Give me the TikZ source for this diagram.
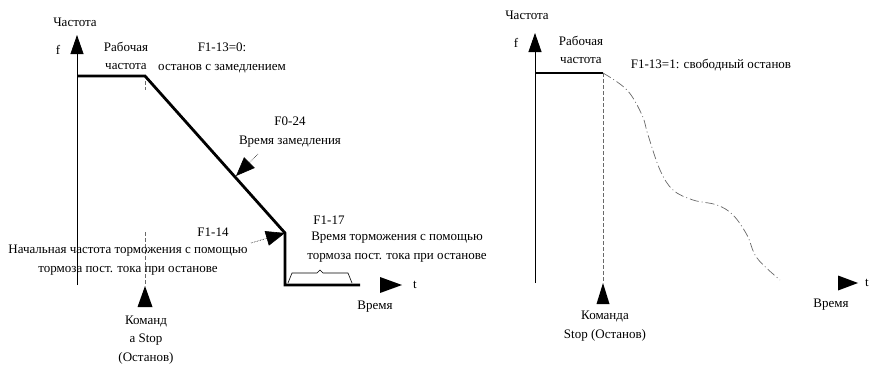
\documentclass[tikz,border=0pt]{standalone}
\usepackage{fontspec}
\setmainfont{Liberation Serif}
\usetikzlibrary{positioning, arrows.meta}
\definecolor{GuideGray}{RGB}{105, 105, 105}

\begin{document}
\begin{tikzpicture}[x=1pt, y=-1pt,
      lbl/.style={font=\fontsize{13}{18.5}\selectfont, inner sep=0pt, align=center},
      axis/.style={line width=0.8pt, -{Triangle[length=19pt, width=13pt]}},
      curve/.style={line width=2.8pt, line join=miter},
      guide/.style={draw=GuideGray, line width=0.8pt, dash pattern=on 4pt off 2pt},
      coast/.style={draw=GuideGray, line width=0.7pt, dash pattern=on 9pt off 3pt on 1pt off 3pt},
      pointer/.style={densely dotted, line width=0.6pt, -{Triangle[length=19pt, width=15pt]}},
      marker/.style={fill=black}
    ]
      \useasboundingbox (0,0) rectangle (869,364);

      % left chart: stop with deceleration
      \coordinate (oL) at (77,285);
      \coordinate (yL) at (77,35);
      \coordinate (runL) at (77,76);
      \coordinate (decL) at (145,76);
      \coordinate (dcL) at (285,233);
      \coordinate (endL) at (285,285);
      \coordinate (tailL) at (360,285);
      \coordinate (stopL) at (145,286);
      \coordinate (tL) at (402,285);
      \coordinate (slopeL) at (236,176);

      \draw[axis] (oL) -- (yL);
      \draw[curve] (runL) -- (decL) -- (dcL) -- (endL) -- (tailL);
      \draw[guide] (145,81) -- (145,90);
      \draw[guide] (145,232) -- (stopL);
      \fill[marker] (stopL) -- ++(-7.5,21) -- ++(15,0) -- cycle;
      \fill[marker] (tL) -- ++(-22,-8) -- ++(0,16) -- cycle;
      \draw[line width=0.6pt] (288,283) -- (292,273) -- (317,273) -- (320,270) -- (323,273) -- (348,273) -- (352,283);

      \node[lbl] (freqL) at (75,22) {Частота};
      \node[lbl] (fL) at (58,50) {f};
      \node[lbl] (workL) at (126,56) {Рабочая\\частота};
      \node[lbl] (modeL) at (222,58) {F1-13=0:\\останов с замедлением};
      \node[lbl] (decTime) at (290,132) {F0-24\\Время замедления};
      \node[lbl] (dcFreq) at (213,232) {F1-14};
      \node[lbl] (dcFreqTxt) at (128,260) {Начальная частота торможения с помощью\\тормоза пост. тока при останове};
      \node[lbl] (dcTime) at (329,220) {F1-17};
      \node[lbl] (dcTimeTxt) at (397,247) {Время торможения с помощью\\тормоза пост. тока при останове};
      \node[lbl] (cmdL) at (146,340) {Команд\\а Stop\\(Останов)};
      \node[lbl] (timeL) at (375,307) {Время};
      \node[lbl] (tLbl) at (415,285) {t};

      \coordinate (ptrA) at (258,154);
      \coordinate (ptrB) at (251,243);
      \draw[pointer] (ptrA) -- (slopeL);
      \draw[pointer] (ptrB) -- (dcL);

      % right chart: coast to stop
      \coordinate (oR) at (535,283);
      \coordinate (yR) at (535,33);
      \coordinate (runR) at (535,73);
      \coordinate (cutR) at (603,73);
      \coordinate (stopR) at (603,283);
      \coordinate (tR) at (858,283);

      \draw[axis] (oR) -- (yR);
      \draw[curve] (runR) -- (cutR);
      \draw[guide] (cutR) -- (stopR);
      \draw[coast] plot[smooth, tension=0.6] coordinates {(cutR) (627,90) (642,115) (648,135) (660,170) (673,190) (693,200) (717,205) (733,215) (747,235) (757,258) (780,280)};
      \fill[marker] (stopR) -- ++(-6.5,21) -- ++(13,0) -- cycle;
      \fill[marker] (tR) -- ++(-20,-7.5) -- ++(0,15) -- cycle;

      \node[lbl] (freqR) at (527,15) {Частота};
      \node[lbl] (fR) at (516,43) {f};
      \node[lbl] (workR) at (581,50) {Рабочая\\частота};
      \node[lbl] (modeR) at (711,65) {F1-13=1: свободный останов};
      \node[lbl] (cmdR) at (605,326) {Команда\\Stop (Останов)};
      \node[lbl] (timeR) at (831,305) {Время};
      \node[lbl] (tRLbl) at (867,283) {t};
    \end{tikzpicture}
\end{document}
